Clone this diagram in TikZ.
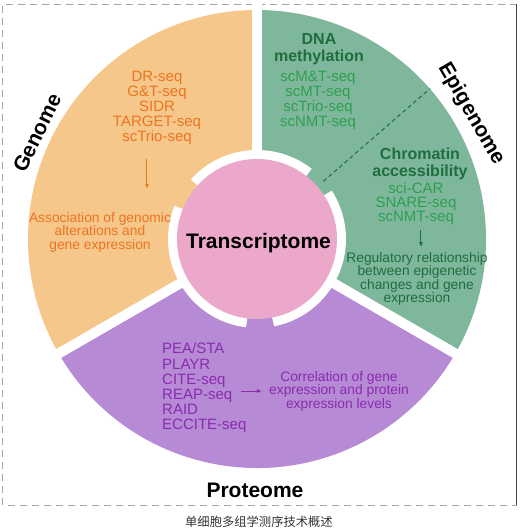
\documentclass[tikz,border=0pt]{standalone}
\usepackage{fontspec}
\setmainfont{Liberation Sans}
\newfontfamily\cjkfont{Noto Sans CJK SC}
\usetikzlibrary{arrows.meta,positioning}
\definecolor{genfill}{HTML}{F5C78B}
\definecolor{epifill}{HTML}{7FB79D}
\definecolor{profill}{HTML}{B68AD4}
\definecolor{trafill}{HTML}{ECA8CB}
\definecolor{gentext}{HTML}{EE7421}
\definecolor{epitext}{HTML}{2DA04E}
\definecolor{epidark}{HTML}{1E6E3E}
\definecolor{protext}{HTML}{8A2BB0}

\begin{document}
\begin{tikzpicture}[x=1pt,y=1pt,>={Latex[length=5pt,width=4pt]},
omic/.style={font=\bfseries\fontsize{21}{21}\selectfont,text=black},
list/.style={align=center,inner sep=1pt,font=\fontsize{15}{15}\selectfont},
note/.style={align=center,inner sep=1pt,font=\fontsize{13.8}{13.5}\selectfont},
head/.style={align=center,inner sep=1pt,font=\bfseries\fontsize{16}{17}\selectfont,text=epidark},
gap/.style={white,line width=10pt}]
\useasboundingbox (-257,-292) rectangle (263,239);
% frame
\draw[gray!70,line width=1pt,dash pattern=on 7pt off 5pt] (260,235) -- (-254,235) -- (-254,-266) -- (260,-266);
\draw[black!75,line width=1pt] (260,235) -- (260,-266);
% ring
\fill[genfill] (0,0) -- (90:229pt) arc[start angle=90,end angle=210,radius=229pt] -- cycle;
\fill[profill] (0,0) -- (210:229pt) arc[start angle=210,end angle=330,radius=229pt] -- cycle;
\fill[epifill] (0,0) -- (-30:229pt) arc[start angle=-30,end angle=90,radius=229pt] -- cycle;
\foreach \a in {90,210,330} \draw[gap] (0,0) -- (\a:235pt);
\foreach \s/\e in {52/138,158/263,281/393}
  \draw[gap] (\s:84pt) arc[start angle=\s,end angle=\e,radius=84pt];
\draw[epidark,line width=1pt,dash pattern=on 4pt off 3pt] (41:88pt) -- (41:229pt);
\node[circle,fill=trafill,minimum size=160pt,inner sep=0pt] (trans) at (0,0) {};
\node[omic,anchor=base] (transcriptome) at (1.5,-9) {Transcriptome};
% outer names
\node[omic,rotate=64] (genome) at (-220,106) {Genome};
\node[omic,rotate=-60] (epigenome) at (214,125) {Epigenome};
\node[omic,anchor=base] (proteome) at (-2,-258) {Proteome};
% genome
\node[list,text=gentext] (genlist) at (-100,131.5) {DR-seq\\G\&T-seq\\SIDR\\TARGET-seq\\scTrio-seq};
\node[note,text=gentext] (genassoc) at (-157,7) {Association of genomic\\alterations and\\gene expression};
\draw[->,gentext,line width=1pt,shorten <=14pt,shorten >=22pt] ([xshift=-10pt]genlist.south) -- ([xshift=-10pt]genlist.south |- genassoc.north);
% epigenome
\node[head] (methhead) at (62,189.5) {DNA\\methylation};
\node[list,text=epitext] (methlist) at (61,139) {scM\&T-seq\\scMT-seq\\scTrio-seq\\scNMT-seq};
\node[head] (chromhead) at (163,75.5) {Chromatin\\accessibility};
\node[list,text=epitext,font=\fontsize{15}{14}\selectfont] (chromlist) at (159,35) {sci-CAR\\SNARE-seq\\scNMT-seq};
\node[note,text=epidark] (regul) at (160,-40) {Regulatory relationship\\between epigenetic\\changes and gene\\expression};
\draw[->,epidark,line width=1pt,shorten <=4pt,shorten >=4pt] ([xshift=5pt]chromlist.south) -- ([xshift=5pt]chromlist.south |- regul.north);
% proteome
\node[list,text=protext,align=left,anchor=west,font=\fontsize{15}{15.2}\selectfont] (protlist) at (-96,-149) {PEA/STA\\PLAYR\\CITE-seq\\REAP-seq\\RAID\\ECCITE-seq};
\node[note,text=protext] (protcorr) at (82,-152) {Correlation of gene\\expression and protein\\expression levels};
\draw[->,protext,line width=1pt,shorten >=6pt] ([xshift=-7pt]protlist.east |- protcorr.west) -- (protcorr.west);
% caption
\node[font=\cjkfont\fontsize{12.3}{14}\selectfont,text=black!80] (caption) at (2,-283) {单细胞多组学测序技术概述};
\end{tikzpicture}
\end{document}
